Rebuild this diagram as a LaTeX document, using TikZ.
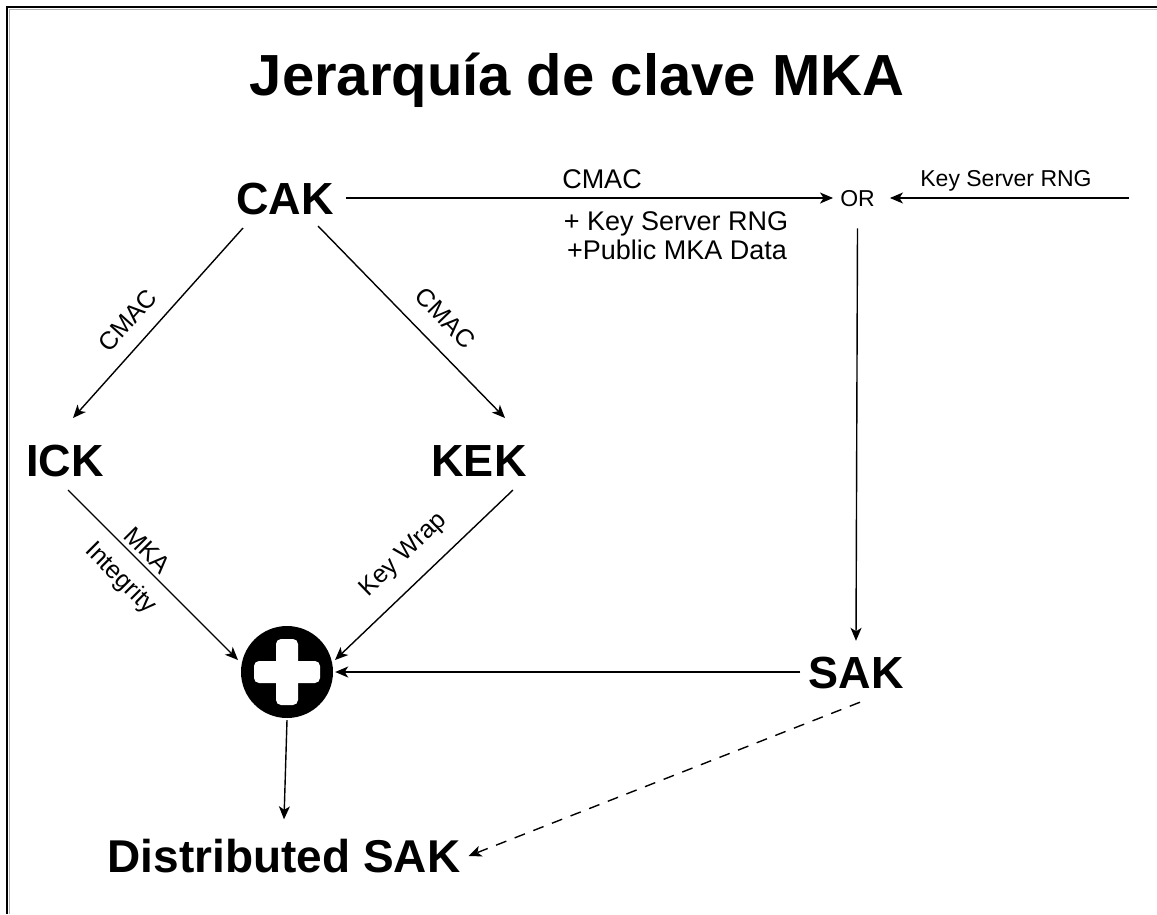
\documentclass[tikz,border=0pt]{standalone}
\usepackage{fontspec}
\setmainfont{Liberation Sans}
\usetikzlibrary{arrows.meta,calc}
\begin{document}
\begin{tikzpicture}[x=1pt,y=-1pt,
  arr/.style={-{Stealth[length=13pt,width=11pt,inset=3.5pt]}, line width=1.4pt},
  keynode/.style={font=\fontsize{45}{50}\selectfont\bfseries, inner sep=0pt, text height=32pt, text depth=0pt},
  lbl/.style={font=\fontsize{25}{28}\selectfont, inner sep=0pt, text height=18pt, text depth=0pt},
  toplbl/.style={font=\fontsize{27}{30}\selectfont, inner sep=0pt, text height=19.5pt, text depth=0pt}]
\useasboundingbox (0,0) rectangle (1157,914);
% frame
\draw[gray!60, line width=1pt] (9.5,914) -- (9.5,9.5) -- (1157,9.5);
\draw[line width=2pt] (7,914) -- (7,7) -- (1157,7);
% title
\node[font=\fontsize{58}{64}\selectfont\bfseries, inner sep=0pt, anchor=base] (title) at (577,95) {Jerarquía de clave MKA};
% key nodes
\node[keynode] (CAK) at (285,198) {CAK};
\node[keynode] (ICK) at (65,460) {ICK};
\node[keynode] (KEK) at (479,460) {KEK};
\node[keynode] (SAK) at (856,672) {SAK};
\node[keynode, font=\fontsize{46}{50}\selectfont\bfseries, text height=33pt] (DSAK) at (284,856) {Distributed SAK};
\node[font=\fontsize{23}{26}\selectfont, inner sep=0pt, text height=16.5pt, text depth=0pt] (OR) at (857.5,198) {OR};
\node[circle, fill=black, minimum size=92pt, inner sep=0pt] (plus) at (287,672) {};
\fill[white, rounded corners=5pt] ($(plus)+(-33,-11)$) rectangle ($(plus)+(33,11)$);
\fill[white, rounded corners=5pt] ($(plus)+(-11,-33)$) rectangle ($(plus)+(11,33)$);
\coordinate (ksrng) at (1129,198);
% connectors
\draw[arr] ([xshift=12pt]CAK.east) -- ([xshift=-7pt]OR.west);
\draw[arr] (ksrng) -- ([xshift=15pt]OR.east);
\draw[arr] ([yshift=-22pt]OR.south) -- ([yshift=15pt]SAK.north);
\draw[arr] ([xshift=-42pt,yshift=-30pt]CAK.center) -- ([xshift=8pt,yshift=42pt]ICK.center);
\draw[arr] ([xshift=33pt,yshift=-28pt]CAK.center) -- ([xshift=26pt,yshift=42pt]KEK.center);
\draw[arr] ([xshift=3pt,yshift=-30pt]ICK.center) -- ([xshift=-49pt,yshift=12pt]plus.center);
\draw[arr] ([xshift=34pt,yshift=-30pt]KEK.center) -- ([xshift=48pt,yshift=12pt]plus.center);
\draw[arr] ([xshift=-8pt]SAK.west) -- ([xshift=2pt]plus.east);
\draw[arr] ([yshift=-2pt]plus.south) -- ([yshift=20pt]DSAK.north);
\draw[arr, dash pattern=on 11pt off 9pt] ([xshift=4pt,yshift=-14pt]SAK.south) -- ([xshift=8pt,yshift=0pt]DSAK.east);
% labels
\node[toplbl] (l1) at (602,179) {CMAC};
\node[toplbl] (l2) at (676,221) {+ Key Server RNG};
\node[toplbl] (l3) at (677,250) {+Public MKA Data};
\node[font=\fontsize{23}{26}\selectfont, inner sep=0pt, text height=16.5pt, text depth=0pt] (l4) at (1006,178) {Key Server RNG};
\node[lbl, rotate=48] (l5) at (127,320) {CMAC};
\node[lbl, rotate=-46] (l6) at (446,318) {CMAC};
\node[lbl, rotate=-45] (l7) at (148,550) {MKA};
\node[lbl, rotate=-45] (l8) at (122,577) {Integrity};
\node[lbl, rotate=44] (l9) at (402,553) {Key Wrap};
\end{tikzpicture}
\end{document}
